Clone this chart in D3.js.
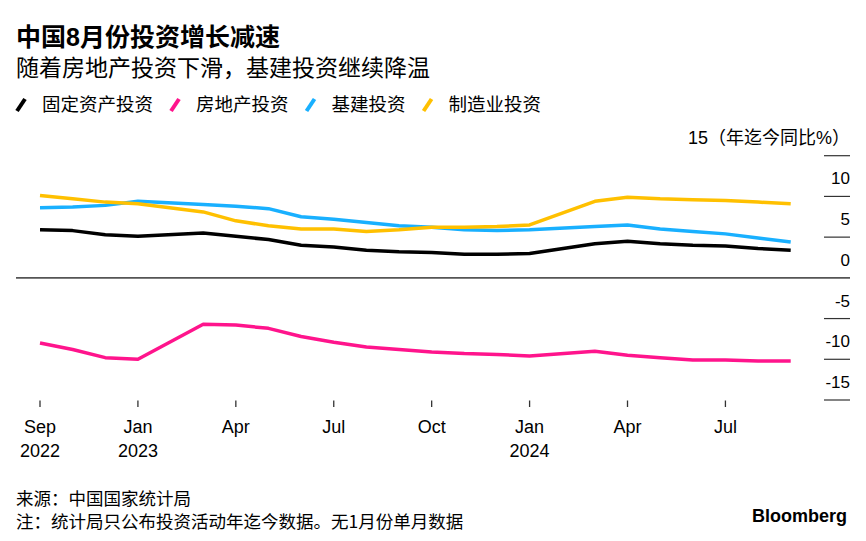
<!DOCTYPE html>
<html>
<head>
<meta charset="utf-8">
<script src="https://cdn.jsdelivr.net/npm/d3@7"></script>
<style>
  html, body { margin: 0; padding: 0; background: #fff; }
  svg { display: block; }
  text { font-family: "Liberation Sans", "Noto Sans CJK SC", sans-serif; fill: #000; }
</style>
</head>
<body>
<svg id="chart" width="866" height="541"></svg>
<script>
// ---- Data (year-to-date growth, %) ----
const months = [
  "2022-09","2022-10","2022-11","2022-12",
  "2023-01","2023-02","2023-03","2023-04","2023-05","2023-06","2023-07","2023-08","2023-09","2023-10","2023-11","2023-12",
  "2024-01","2024-02","2024-03","2024-04","2024-05","2024-06","2024-07","2024-08"
];
// January has no single-month data -> null
const fixedAsset    = [5.9, 5.8, 5.3, 5.1, null, 5.5, 5.1, 4.7, 4.0, 3.8, 3.4, 3.2, 3.1, 2.9, 2.9, 3.0, null, 4.2, 4.5, 4.2, 4.0, 3.9, 3.6, 3.4];
const realEstate    = [-8.0, -8.8, -9.8, -10.0, null, -5.7, -5.8, -6.2, -7.2, -7.9, -8.5, -8.8, -9.1, -9.3, -9.4, -9.6, null, -9.0, -9.5, -9.8, -10.1, -10.1, -10.2, -10.2];
const infrastructure= [8.6, 8.7, 8.9, 9.4, null, 9.0, 8.8, 8.5, 7.5, 7.2, 6.8, 6.4, 6.2, 5.9, 5.8, 5.9, null, 6.3, 6.5, 6.0, 5.7, 5.4, 4.9, 4.4];
const manufacturing = [10.1, 9.7, 9.3, 9.1, null, 8.1, 7.0, 6.4, 6.0, 6.0, 5.7, 5.9, 6.2, 6.2, 6.3, 6.5, null, 9.4, 9.9, 9.7, 9.6, 9.5, 9.3, 9.1];

const seriesNames  = ["固定资产投资", "房地产投资", "基建投资", "制造业投资"];
const seriesColors = ["#000000", "#ff148c", "#19b0ff", "#ffc000"];

const yTicks = [15, 10, 5, 0, -5, -10, -15];
const yTickLabels = ["15（年迄今同比%）", "10", "5", "0", "-5", "-10", "-15"];

const xTickMonths = ["2022-09","2022-12","2023-03","2023-06","2023-09","2023-12","2024-03","2024-06"];
const xTickLabels = [["Sep","2022"],["Jan","2023"],["Apr"],["Jul"],["Oct"],["Jan","2024"],["Apr"],["Jul"]];

const titleText = "中国8月份投资增长减速";
const subtitleText = "随着房地产投资下滑，基建投资继续降温";
const sourceText = "来源：中国国家统计局";
const noteText = "注：统计局只公布投资活动年迄今数据。无1月份单月数据";

// ---- Drawing ----
const svg = d3.select("#chart");
const CJK = '"Noto Sans CJK SC", "Liberation Sans", sans-serif';

const x = d3.scalePoint().domain(months).range([40, 790.7]);
const y = d3.scaleLinear().domain([-15, 15]).range([400, 155.7]);

// Title & subtitle
svg.append("text").attr("x", 16).attr("y", 46)
  .style("font-family", '"Liberation Sans", "Noto Sans CJK SC", sans-serif')
  .style("font-weight", "700").style("font-size", "25px").text(titleText);
svg.append("text").attr("x", 16).attr("y", 76)
  .style("font-size", "23px").style("font-family", CJK).text(subtitleText);

// Legend
const legend = svg.append("g");
let lx = 16;
seriesNames.forEach((name, i) => {
  legend.append("line")
    .attr("x1", lx + 1).attr("y1", 111).attr("x2", lx + 9).attr("y2", 99)
    .attr("stroke", seriesColors[i]).attr("stroke-width", 4).attr("stroke-linecap", "butt");
  const t = legend.append("text").attr("x", lx + 26).attr("y", 111)
    .style("font-family", CJK).style("font-size", "18.5px").text(name);
  lx = lx + 26 + t.node().getComputedTextLength() + 17;
});

// Right axis: short tick segments + labels above them
const yAxis = svg.append("g");
yTicks.forEach((v, i) => {
  yAxis.append("line")
    .attr("x1", v === 0 ? 16 : 824).attr("x2", 850)
    .attr("y1", y(v)).attr("y2", y(v))
    .attr("stroke", v === 0 ? "#555" : "#333").attr("stroke-width", v === 0 ? 1.6 : 1.2);
  yAxis.append("text")
    .attr("x", 850).attr("y", y(v) - 12)
    .attr("text-anchor", "end")
    .style("font-size", i === 0 ? "18px" : "17px")
    .text(yTickLabels[i]);
});

// Bottom axis: small tick marks and two-line labels
const xAxis = svg.append("g");
xTickMonths.forEach((m, i) => {
  const px = x(m);
  xAxis.append("line").attr("x1", px).attr("x2", px).attr("y1", 400.5).attr("y2", 407)
    .attr("stroke", "#333").attr("stroke-width", 1.3);
  xTickLabels[i].forEach((l, j) => {
    xAxis.append("text").attr("x", px).attr("y", 433 + j * 23.5)
      .attr("text-anchor", "middle").style("font-size", "18px").text(l);
  });
});

// Lines
const allSeries = [fixedAsset, realEstate, infrastructure, manufacturing];
const lineGen = d3.line().x(d => x(d.m)).y(d => y(d.v));
[1, 0, 2, 3].forEach(i => {
  const pts = months.map((m, k) => ({ m, v: allSeries[i][k] })).filter(d => d.v !== null);
  svg.append("path").datum(pts)
    .attr("d", lineGen)
    .attr("fill", "none")
    .attr("stroke", seriesColors[i])
    .attr("stroke-width", 3.5)
    .attr("stroke-linejoin", "round");
});

// Footer
svg.append("text").attr("x", 16).attr("y", 505)
  .style("font-family", CJK).style("font-size", "17.5px").text(sourceText);
svg.append("text").attr("x", 16).attr("y", 528)
  .style("font-family", CJK).style("font-size", "17.5px").text(noteText);
svg.append("text").attr("x", 847).attr("y", 522).attr("text-anchor", "end")
  .style("font-family", '"Liberation Sans", sans-serif').style("font-weight", "700")
  .style("font-size", "18px").text("Bloomberg");
</script>
</body>
</html>
